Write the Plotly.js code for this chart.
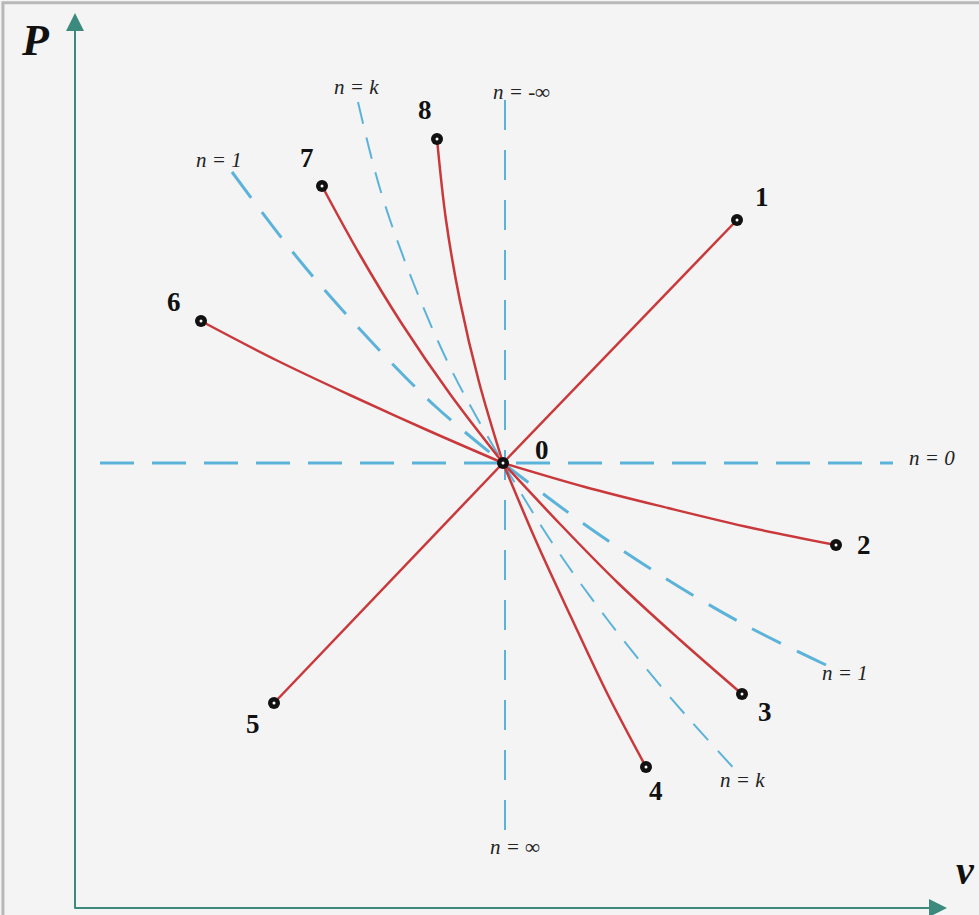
<!DOCTYPE html>
<html>
<head>
<meta charset="utf-8">
<script src="https://cdn.plot.ly/plotly-3.0.1.min.js"></script>
<style>
  body { margin: 0; background: #f4f4f4; }
  #chart { width: 979px; height: 915px; }
</style>
</head>
<body>
<div id="chart"></div>
<script>
// P-v diagram: polytropic processes out of state 0 (schematic units)
let state0 = {v: 428, P: 445};

// process curves 0 -> i
let proc1_v = [428, 662], proc1_P = [445, 688];
let proc2_v = [428, 510, 593, 677, 761], proc2_P = [445, 421, 400, 380, 363];
let proc3_v = [428, 485, 543, 604, 667], proc3_P = [445, 384, 325, 269, 214];
let proc4_v = [428, 461, 496, 532, 571], proc4_P = [445, 367, 291, 215, 141];
let proc5_v = [428, 199], proc5_P = [445, 205];
let proc6_v = [428, 352, 277, 201, 126], proc6_P = [445, 478, 512, 548, 587];
let proc7_v = [428, 375, 327, 285, 247], proc7_P = [445, 514, 584, 653, 722];
let proc8_v = [428, 404, 385, 371, 362], proc8_P = [445, 526, 607, 688, 769];

let endLabels = ["1", "2", "3", "4", "5", "6", "7", "8"];

// reference polytropes (dashed)
let isobar_v = [25, 818], isobar_P = [445, 445];
let isochor_v = [430, 430], isochor_P = [808, 75];
let isothermUp_v = [157, 225, 293, 360, 428], isothermUp_P = [736, 647, 570, 502, 445];
let isothermDown_v = [428, 509, 590, 670, 751], isothermDown_P = [445, 384, 330, 283, 243];
let adiabatUp_v = [283, 306, 338, 378, 428], adiabatUp_P = [806, 716, 626, 535, 445];
let adiabatDown_v = [428, 476, 532, 595, 665], adiabatDown_P = [445, 367, 289, 211, 133];

let red = "#c9383a";
let blue = "#5cb3da";
let teal = "#3c8a7e";

let procs = [
  [proc1_v, proc1_P], [proc2_v, proc2_P], [proc3_v, proc3_P], [proc4_v, proc4_P],
  [proc5_v, proc5_P], [proc6_v, proc6_P], [proc7_v, proc7_P], [proc8_v, proc8_P]
];

let traces = [];

function dashed(v, P, width, dash) {
  return {
    x: v, y: P, mode: "lines", hoverinfo: "skip",
    line: {color: blue, width: width, dash: dash, shape: "spline", smoothing: 1}
  };
}
traces.push(dashed(isobar_v, isobar_P, 3, "34px,18px"));
traces.push(dashed(isochor_v, isochor_P, 2, "30px,20px"));
traces.push(dashed(isothermUp_v, isothermUp_P, 3, "32px,18px"));
traces.push(dashed(isothermDown_v, isothermDown_P, 3, "32px,18px"));
traces.push(dashed(adiabatUp_v, adiabatUp_P, 2, "22px,14px"));
traces.push(dashed(adiabatDown_v, adiabatDown_P, 2, "22px,14px"));

for (let p of procs) {
  traces.push({
    x: p[0], y: p[1], mode: "lines", hoverinfo: "skip",
    line: {color: red, width: 2.5, shape: "spline", smoothing: 1}
  });
}

// end points
let end_v = procs.map(p => p[0][p[0].length - 1]).concat([state0.v]);
let end_P = procs.map(p => p[1][p[1].length - 1]).concat([state0.P]);
traces.push({
  x: end_v, y: end_P, mode: "markers", hoverinfo: "skip",
  marker: {color: "#111111", size: 12, line: {width: 0}}
});
traces.push({
  x: end_v, y: end_P, mode: "markers", hoverinfo: "skip",
  marker: {color: "#ffffff", size: 3, line: {width: 0}}
});

let numFont = {family: "Liberation Serif, serif", size: 27, color: "#111111"};
let nFont = {family: "Liberation Serif, serif", size: 21, color: "#222222"};

// label offsets (diagram units) for each end point
let labelDx = [25, 28, 23, 10, -21, -27, -15, -12];
let labelDy = [23, 0, -18, -24, -21, 19, 28, 29];

let annotations = [];
endLabels.forEach((t, i) => {
  annotations.push({
    x: end_v[i] + labelDx[i], y: end_P[i] + labelDy[i], text: "<b>" + t + "</b>",
    showarrow: false, font: numFont
  });
});
annotations.push({x: state0.v + 39, y: state0.P + 13, text: "<b>0</b>",
  showarrow: false, font: numFont});

let nLabels = [
  {x: 281, y: 821, t: "n = k"},
  {x: 446, y: 816, t: "n = -∞"},
  {x: 144, y: 748, t: "n = 1"},
  {x: 857, y: 450, t: "n = 0"},
  {x: 770, y: 235, t: "n = 1"},
  {x: 667, y: 128, t: "n = k"},
  {x: 440, y: 61, t: "n = ∞"}
];
for (let l of nLabels) {
  annotations.push({x: l.x, y: l.y, text: "<i>" + l.t + "</i>", showarrow: false, font: nFont});
}

// axis titles
annotations.push({x: -40, y: 868, text: "<b><i>P</i></b>", showarrow: false,
  font: {family: "Liberation Serif, serif", size: 44, color: "#111111"}});
annotations.push({x: 890, y: 38, text: "<b><i>v</i></b>", showarrow: false,
  font: {family: "Liberation Serif, serif", size: 40, color: "#111111"}});

// axes arrows
annotations.push({x: 0, y: 895, ax: 0, ay: -2, axref: "x", ayref: "y", text: "",
  showarrow: true, arrowhead: 2, arrowsize: 1.8, arrowwidth: 2, arrowcolor: teal});
annotations.push({x: 872, y: 0, ax: -2, ay: 0, axref: "x", ayref: "y", text: "",
  showarrow: true, arrowhead: 2, arrowsize: 1.8, arrowwidth: 2, arrowcolor: teal});

let hidden = {showgrid: false, zeroline: false, showticklabels: false, ticks: "",
  showline: false, fixedrange: true};

let layout = {
  width: 979, height: 915,
  margin: {l: 0, r: 0, t: 0, b: 0},
  showlegend: false,
  paper_bgcolor: "#f4f4f4",
  plot_bgcolor: "#f4f4f4",
  xaxis: Object.assign({range: [-75, 904]}, hidden),
  yaxis: Object.assign({range: [-7, 908]}, hidden),
  annotations: annotations,
  shapes: [
    {type: "rect", xref: "paper", yref: "paper", x0: 0.003, x1: 1.2, y0: -0.2, y1: 0.997,
     line: {color: "#b8b8b8", width: 3}}
  ]
};

Plotly.newPlot("chart", traces, layout, {staticPlot: true});
</script>
</body>
</html>
